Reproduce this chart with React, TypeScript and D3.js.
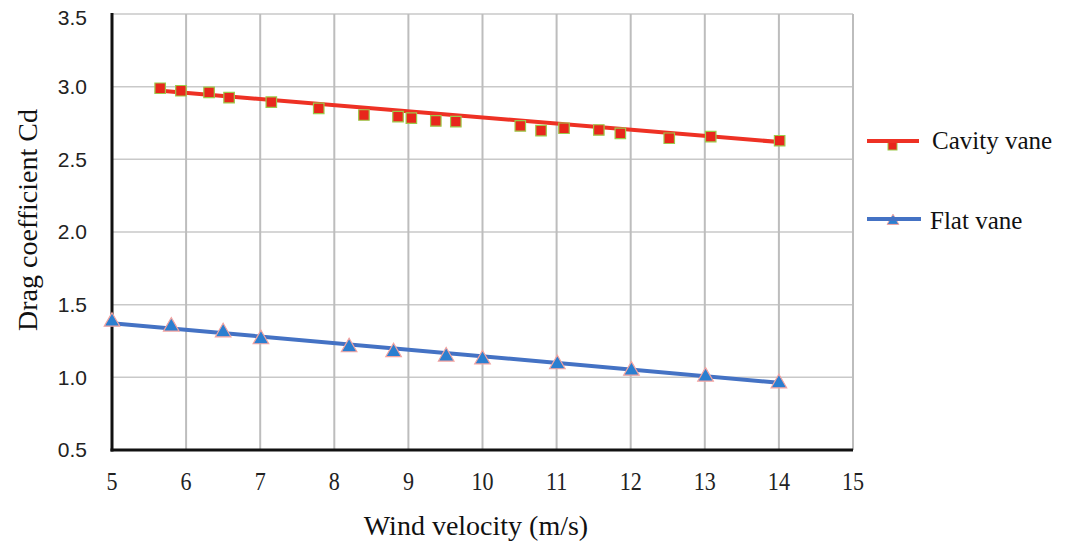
import React, { useEffect, useRef } from "react";
import * as d3 from "d3";

const width = 1065;
const height = 548;

// Cavity vane measurements
const cavityX = [5.65, 5.93, 6.31, 6.58, 7.15, 7.79, 8.4, 8.86, 9.04, 9.37, 9.64, 10.51, 10.79, 11.1, 11.57, 11.86, 12.52, 13.08, 14.01];
const cavityCd = [2.989, 2.972, 2.961, 2.924, 2.893, 2.851, 2.805, 2.794, 2.783, 2.764, 2.759, 2.73, 2.697, 2.714, 2.702, 2.679, 2.645, 2.656, 2.628];

// Flat vane measurements
const flatX = [5.0, 5.8, 6.5, 7.01, 8.2, 8.8, 9.51, 10.0, 11.01, 12.01, 13.01, 14.0];
const flatCd = [1.383, 1.349, 1.31, 1.262, 1.207, 1.173, 1.143, 1.123, 1.09, 1.046, 1.005, 0.959];

// trend lines
const cavityTrendX = [5.58, 14.05];
const cavityTrendCd = [2.975, 2.617];
const flatTrendX = [5.0, 14.0];
const flatTrendCd = [1.372, 0.963];

const xTicks = [5, 6, 7, 8, 9, 10, 11, 12, 13, 14, 15];
const yTicks = [0.5, 1.0, 1.5, 2.0, 2.5, 3.0, 3.5];

const seriesNames = ["Cavity vane", "Flat vane"];

const RED = "#ee3124";
const BLUE = "#4472c4";
const SERIF = "'Liberation Serif', 'Times New Roman', serif";

const App = () => {
  const svgRef = useRef(null);

  useEffect(() => {
    const svg = d3.select(svgRef.current);
    svg.selectAll("*").remove();

    const xScale = d3.scaleLinear().domain([5, 15]).range([112, 853]);
    const yScale = d3.scaleLinear().domain([0.5, 3.5]).range([450, 14]);

    svg.append("rect").attr("width", width).attr("height", height).attr("fill", "#fff");

    // gridlines
    svg
      .selectAll(".hgrid")
      .data(yTicks.slice(1))
      .enter()
      .append("line")
      .attr("x1", xScale(5))
      .attr("x2", xScale(15))
      .attr("y1", (d) => yScale(d))
      .attr("y2", (d) => yScale(d))
      .style("stroke", "#c9c9c9")
      .style("stroke-width", 1.5);

    svg
      .selectAll(".vgrid")
      .data(xTicks.slice(1))
      .enter()
      .append("line")
      .attr("x1", (d) => xScale(d))
      .attr("x2", (d) => xScale(d))
      .attr("y1", yScale(3.5))
      .attr("y2", yScale(0.5))
      .style("stroke", "#bdbdbd")
      .style("stroke-width", 2);

    // axes lines
    svg
      .append("line")
      .attr("x1", xScale(5))
      .attr("x2", xScale(5))
      .attr("y1", yScale(3.5) - 1)
      .attr("y2", yScale(0.5) + 1.5)
      .style("stroke", "#111")
      .style("stroke-width", 3);
    svg
      .append("line")
      .attr("x1", xScale(5) - 1.5)
      .attr("x2", xScale(15))
      .attr("y1", yScale(0.5))
      .attr("y2", yScale(0.5))
      .style("stroke", "#111")
      .style("stroke-width", 3);

    // tick labels
    svg
      .selectAll(".ylab")
      .data(yTicks)
      .enter()
      .append("text")
      .attr("x", 87)
      .attr("y", (d) => yScale(d) + (d === 3.5 ? 4 : 0))
      .attr("dy", "0.35em")
      .attr("text-anchor", "end")
      .style("font-family", "'Liberation Sans', Arial, sans-serif")
      .style("font-size", "21px")
      .style("fill", "#222")
      .text((d) => d.toFixed(1));

    svg
      .selectAll(".xlab")
      .data(xTicks)
      .enter()
      .append("text")
      .attr("transform", (d) => `translate(${xScale(d)},490) scale(0.85,1)`)
      .attr("text-anchor", "middle")
      .style("font-family", SERIF)
      .style("font-size", "26px")
      .style("fill", "#222")
      .text((d) => d);

    // axis titles
    svg
      .append("text")
      .attr("x", 476)
      .attr("y", 535)
      .attr("text-anchor", "middle")
      .style("font-family", SERIF)
      .style("font-size", "28px")
      .style("fill", "#111")
      .text("Wind velocity (m/s)");

    svg
      .append("text")
      .attr("transform", "translate(37,220) rotate(-90)")
      .attr("text-anchor", "middle")
      .style("font-family", SERIF)
      .style("font-size", "28px")
      .style("fill", "#111")
      .text("Drag coefficient Cd");

    const line = d3
      .line()
      .x((d) => xScale(d[0]))
      .y((d) => yScale(d[1]));

    // cavity vane
    svg
      .append("path")
      .attr("d", line(cavityTrendX.map((x, i) => [x, cavityTrendCd[i]])))
      .style("fill", "none")
      .style("stroke", RED)
      .style("stroke-width", 4);

    svg
      .selectAll(".cav")
      .data(cavityX.map((x, i) => [x, cavityCd[i]]))
      .enter()
      .append("path")
      .attr("transform", (d) => `translate(${xScale(d[0])},${yScale(d[1])})`)
      .attr("d", d3.symbol().type(d3.symbolSquare).size(110))
      .style("fill", "#e8261c")
      .style("stroke", "#9cc94a")
      .style("stroke-width", 1.2);

    // flat vane
    svg
      .append("path")
      .attr("d", line(flatTrendX.map((x, i) => [x, flatTrendCd[i]])))
      .style("fill", "none")
      .style("stroke", BLUE)
      .style("stroke-width", 4);

    svg
      .selectAll(".flat")
      .data(flatX.map((x, i) => [x, flatCd[i]]))
      .enter()
      .append("path")
      .attr("transform", (d) => `translate(${xScale(d[0])},${yScale(d[1])})`)
      .attr("d", d3.symbol().type(d3.symbolTriangle).size(105))
      .style("fill", "#2b7fd0")
      .style("stroke", "#f3a3a0")
      .style("stroke-width", 1.2);

    // legend
    const legend = [
      { name: seriesNames[0], color: RED, y: 141, textY: 149 },
      { name: seriesNames[1], color: BLUE, y: 219, textY: 229 },
    ];
    legend.forEach((l, i) => {
      const g = svg.append("g");
      if (i === 0) {
        g.append("rect")
          .attr("x", 888)
          .attr("y", l.y + 1)
          .attr("width", 9)
          .attr("height", 8)
          .style("fill", "#e8261c")
          .style("stroke", "#9cc94a")
          .style("stroke-width", 1);
      } else {
        g.append("path")
          .attr("transform", `translate(893,${l.y + 2})`)
          .attr("d", d3.symbol().type(d3.symbolTriangle).size(60))
          .style("fill", "#2b7fd0")
          .style("stroke", "#f3a3a0");
      }
      g.append("line")
        .attr("x1", 867)
        .attr("x2", i === 0 ? 919 : 921)
        .attr("y1", l.y)
        .attr("y2", l.y)
        .style("stroke", l.color)
        .style("stroke-width", 4);
      g.append("text")
        .attr("x", i === 0 ? 932 : 930)
        .attr("y", l.textY)
        .style("font-family", SERIF)
        .style("font-size", "25px")
        .style("fill", "#111")
        .text(l.name);
    });
  }, []);

  return (
    <svg
      ref={svgRef}
      width={width}
      height={height}
      style={{ position: "absolute", left: 0, top: 0 }}
    ></svg>
  );
};

export default App;
